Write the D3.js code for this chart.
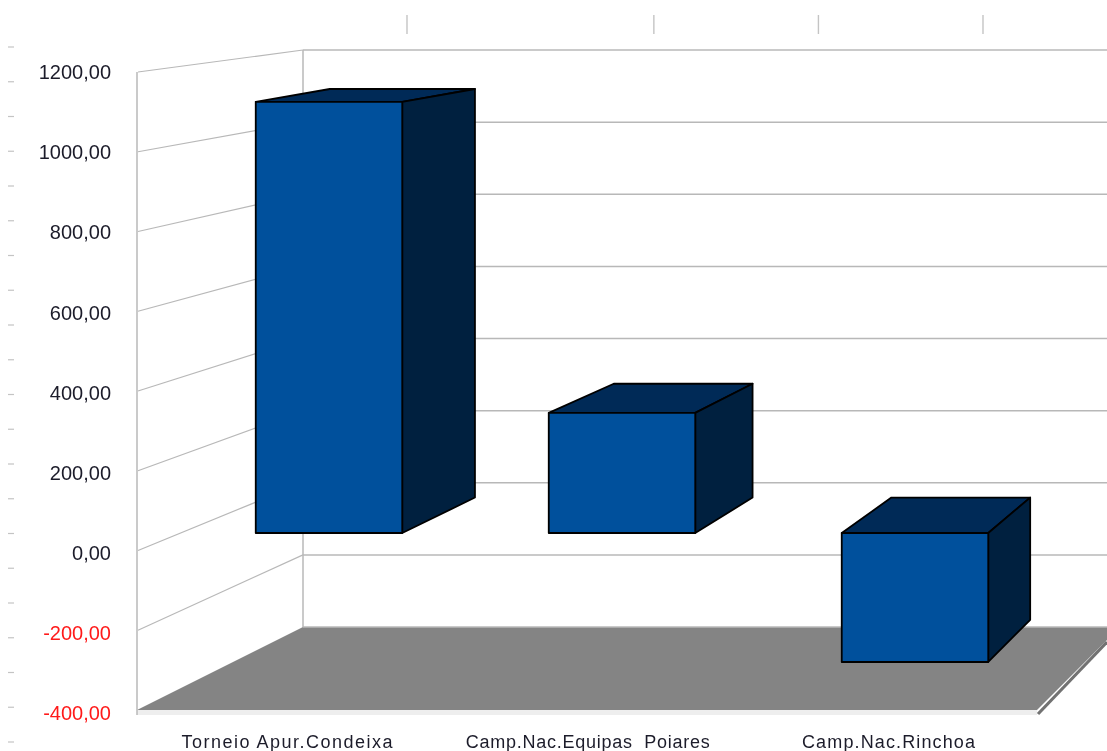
<!DOCTYPE html>
<html><head><meta charset="utf-8">
<script src="https://cdn.jsdelivr.net/npm/d3@7/dist/d3.min.js"></script>
<style>html,body{margin:0;padding:0;background:#fff;overflow:hidden}svg{display:block;filter:blur(.5px)}text{font-family:"Liberation Sans",Arial,sans-serif}</style>
</head><body><svg id="c" width="1107" height="751"></svg>
<script>
const categories = ["Torneio Apur.Condeixa", "Camp.Nac.Equipas  Poiares", "Camp.Nac.Rinchoa"];
const values = [1120, 312, -335];
const axisTicks = [-400, -200, 0, 200, 400, 600, 800, 1000, 1200];
const tickLabels = ["-400,00", "-200,00", "0,00", "200,00", "400,00", "600,00", "800,00", "1000,00", "1200,00"];
const topMarks = [0, 1.5, 2.5, 3.5];
const sideMarks = d3.range(21);

const svg = d3.select("#c");
const domain = [-400, 1200];
const yFront = d3.scaleLinear().domain(domain).range([710, 72]);
const yBack = d3.scaleLinear().domain(domain).range([627, 50]);
const yBar = d3.scaleLinear().domain(domain).range([687, 71]);
const yLabel = d3.scaleLinear().domain(domain).range([713, 72]);
const xBar = d3.scaleBand().domain(categories).range([182.5, 1061.5]).paddingInner(.5).paddingOuter(.25);
const xLabel = d3.scalePoint().domain(categories).range([287, 888.5]);
const xTop = d3.scaleLinear().domain([0, 3.5]).range([407, 983]);
const ySide = d3.scaleLinear().domain([0, 20]).range([47, 742]);
const labelFit = d3.scaleOrdinal().domain(categories).range([211, 244, 173]);

const grid = "#b8b8b8";
svg.append("g").selectAll("line").data(topMarks).join("line")
  .attr("x1", xTop).attr("x2", xTop).attr("y1", 15).attr("y2", 34)
  .attr("stroke", "#c4c4c4").attr("stroke-width", 1.4);
svg.append("g").selectAll("line").data(sideMarks).join("line")
  .attr("x1", 8).attr("x2", 14).attr("y1", ySide).attr("y2", ySide)
  .attr("stroke", "#c4c4c4").attr("stroke-width", 1.2);

svg.append("polygon").attr("points", "137,710 1037,710 1037,715 137,715").attr("fill", "#eeeeee");
svg.append("polygon")
  .attr("points", [[137, yFront(-400)], [303, yBack(-400)], [1107, yBack(-400)], [1107, 640], [1037, yFront(-400)]].join(" "))
  .attr("fill", "#848484");
svg.append("line").attr("x1", 1107).attr("y1", 642).attr("x2", 1038).attr("y2", 714)
  .attr("stroke", "#727272").attr("stroke-width", 3.2);

const g = svg.append("g").attr("stroke", grid).attr("fill", "none").attr("stroke-width", 1.5);
g.selectAll(".b").data(axisTicks).join("line").attr("class", "b")
  .attr("x1", 303).attr("x2", 1107).attr("y1", yBack).attr("y2", yBack);
g.selectAll(".s").data(axisTicks.slice(1)).join("line").attr("class", "s")
  .attr("x1", 138).attr("x2", 303).attr("y1", yFront).attr("y2", yBack).attr("stroke-width", 1.2);
g.append("line").attr("x1", 137).attr("x2", 137).attr("y1", yFront(1200)).attr("y2", 715);
g.append("line").attr("x1", 303).attr("x2", 303).attr("y1", yBack(1200)).attr("y2", yBack(-400));

const vp = [1787, -142], t = 0.0525, maxDx = 74;
const back = ([x, y]) => [x + Math.min(maxDx, t * (vp[0] - x)), y + t * (vp[1] - y)];

const bars = svg.append("g").selectAll("g").data(categories.map((c, i) => ({c, v: values[i]}))).join("g")
  .attr("stroke", "#000").attr("stroke-width", 1.8).attr("stroke-linejoin", "round");
const corners = d => {
  const x0 = xBar(d.c), x1 = x0 + xBar.bandwidth();
  const top = yBar(Math.max(d.v, 0)), bot = yBar(Math.min(d.v, 0));
  return {x0, x1, top, bot};
};
bars.append("polygon").attr("fill", "#002a57").attr("points", d => {
  const k = corners(d);
  return [[k.x0, k.top], back([k.x0, k.top]), back([k.x1, k.top]), [k.x1, k.top]].join(" ");
});
bars.append("polygon").attr("fill", "#00203f").attr("points", d => {
  const k = corners(d);
  return [[k.x1, k.top], back([k.x1, k.top]), back([k.x1, k.bot]), [k.x1, k.bot]].join(" ");
});
bars.append("rect").attr("fill", "#00509c")
  .attr("x", d => corners(d).x0).attr("y", d => corners(d).top)
  .attr("width", xBar.bandwidth()).attr("height", d => corners(d).bot - corners(d).top);

svg.append("g").selectAll("text").data(axisTicks).join("text")
  .attr("x", 111).attr("y", yLabel).attr("dy", "0.36em").attr("text-anchor", "end")
  .attr("font-size", 20).attr("fill", d => d < 0 ? "#ff1a1a" : "#1c1c2a")
  .text((d, i) => tickLabels[i]);
svg.append("g").selectAll("text").data(categories).join("text")
  .attr("x", xLabel).attr("y", 748).attr("text-anchor", "middle")
  .style("white-space", "pre")
  .attr("textLength", labelFit).attr("lengthAdjust", "spacing")
  .attr("font-size", 18).attr("fill", "#1c1c2a").text(d => d);
</script></body></html>
